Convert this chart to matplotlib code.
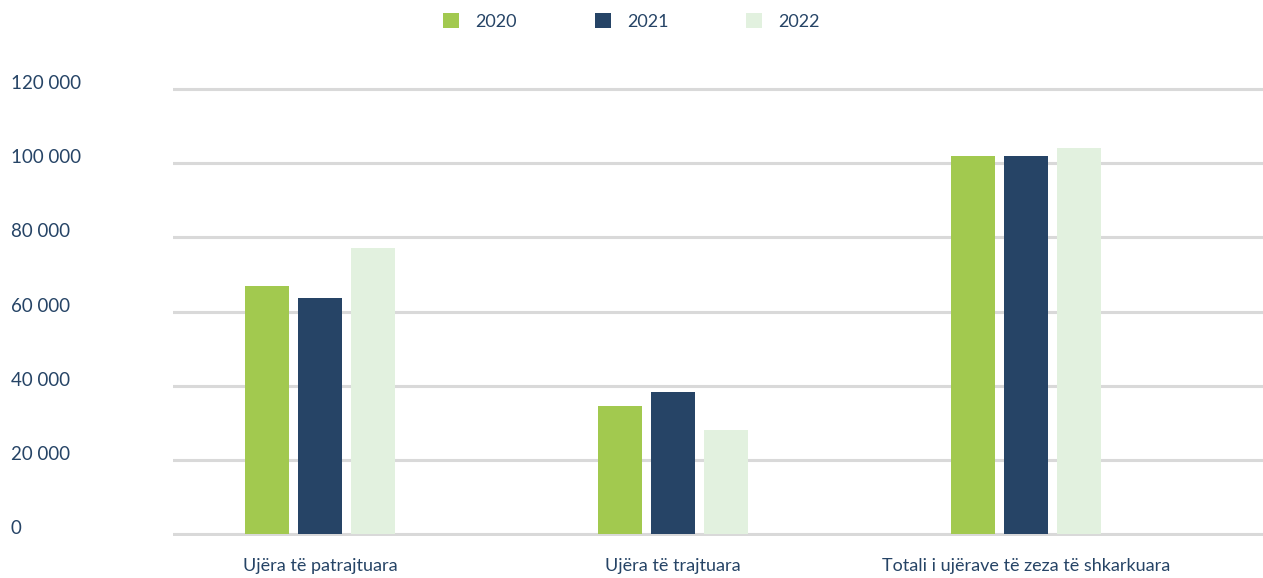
import numpy as np
import matplotlib
matplotlib.use("Agg")
import matplotlib.pyplot as plt

categories = ["Ujëra të patrajtuara", "Ujëra të trajtuara", "Totali i ujërave të zeza të shkarkuara"]
years = ["2020", "2021", "2022"]
v2020 = [66800, 34500, 101900]
v2021 = [63600, 38300, 101900]
v2022 = [77100, 28000, 104000]
yticks = [0, 20000, 40000, 60000, 80000, 100000, 120000]
ytick_labels = ["0", "20 000", "40 000", "60 000", "80 000", "100 000", "120 000"]

colors = ["#A2C94F", "#264466", "#E2F1DF"]
text_color = "#264466"
plt.rcParams['font.family'] = ['Lato', 'DejaVu Sans']

fig = plt.figure(figsize=(12.63, 5.78), dpi=100)
ax = fig.add_axes([0.137, 0.0723, 0.863, 0.7775])

x = np.arange(len(categories))
width = 0.125
step = 0.150
for i, (vals, yr) in enumerate(zip([v2020, v2021, v2022], years)):
    ax.bar(x + (i - 1) * step, vals, width, color=colors[i], label=yr, zorder=3)

ax.set_xlim(-0.416, 2.67)
ax.set_ylim(-600, 120600)
ax.set_yticks(yticks)
ax.set_yticklabels(ytick_labels, ha='left', va='baseline', fontsize=13.5, color=text_color)
ax.tick_params(axis='y', length=0, pad=117)
ax.set_xticks(x)
ax.set_xticklabels(categories, fontsize=13, color=text_color)
ax.tick_params(axis='x', length=0, pad=16)

ax.grid(axis='y', color='#D9D9D9', linewidth=2.2, zorder=0)
ax.set_axisbelow(True)
for s in ax.spines.values():
    s.set_visible(False)

fig.legend(loc='center', bbox_to_anchor=(0.5, 0.963), ncol=3, frameon=False,
           fontsize=13, handlelength=0.9, handleheight=0.9, columnspacing=4.3,
           handletextpad=0.9, labelcolor=text_color)

fig.savefig("out.png", dpi=100)
